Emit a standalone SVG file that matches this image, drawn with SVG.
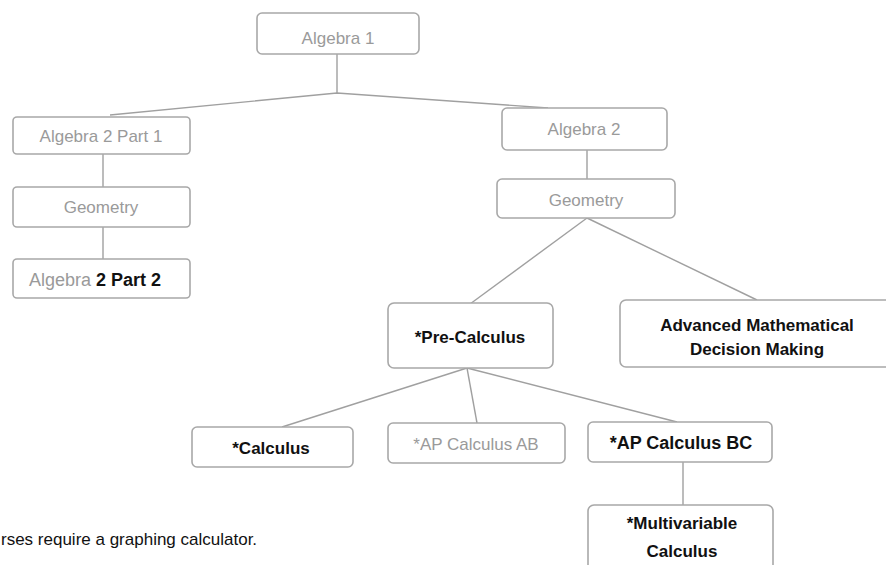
<svg xmlns="http://www.w3.org/2000/svg" width="886" height="565" viewBox="0 0 886 565">
<style>
.box{fill:#fff;stroke:#a8a8a8;stroke-width:1.6}
.t{font-family:"Liberation Sans","Open Sans",Arial,sans-serif;font-size:17px;text-anchor:middle}
.g{fill:#9a9a9a}
.b{fill:#111;font-weight:bold}
.con{fill:none;stroke:#a0a0a0;stroke-width:1.4}
.note{font-family:"Liberation Sans",Arial,sans-serif;font-size:17px;fill:#111}
</style>
<rect width="886" height="565" fill="#fff"/>
<g id="connectors" class="con">
<path d="M337 54 V93"/>
<path d="M110 115 L337 93 L548 108"/>
<path d="M103 154 V187"/>
<path d="M103 227 V259"/>
<path d="M587 150 V179"/>
<path d="M587 218 L470 304"/>
<path d="M587 218 L757 300"/>
<path d="M467 368 L282 427"/>
<path d="M467 368 L477 423"/>
<path d="M467 368 L677 422"/>
<path d="M683 462 V505"/>
</g>
<g id="algebra1"><rect class="box" x="257" y="13" width="162" height="41" rx="5"/><text class="t g" x="338" y="44">Algebra 1</text></g>
<g id="algebra2part1"><rect class="box" x="13" y="117" width="177" height="37" rx="4"/><text class="t g" x="101" y="142">Algebra 2 Part 1</text></g>
<g id="geometry-left"><rect class="box" x="13" y="187" width="177" height="40" rx="4"/><text class="t g" x="101" y="213">Geometry</text></g>
<g id="algebra2part2"><rect class="box" x="13" y="259" width="177" height="39" rx="4"/><text class="t" x="95" y="286" style="font-size:18px"><tspan class="g">Algebra </tspan><tspan class="b">2 Part 2</tspan></text></g>
<g id="algebra2"><rect class="box" x="502" y="108" width="165" height="42" rx="5"/><text class="t g" x="584" y="135">Algebra 2</text></g>
<g id="geometry-right"><rect class="box" x="497" y="179" width="178" height="39" rx="5"/><text class="t g" x="586" y="206">Geometry</text></g>
<g id="precalculus"><rect class="box" x="388" y="303" width="165" height="65" rx="6"/><text class="t b" x="470" y="343">*Pre-Calculus</text></g>
<g id="amdm"><rect class="box" x="620" y="300" width="272" height="67" rx="6"/><text class="t b" x="757" y="331">Advanced Mathematical</text><text class="t b" x="757" y="355">Decision Making</text></g>
<g id="calculus"><rect class="box" x="192" y="427" width="161" height="40" rx="5"/><text class="t b" x="271" y="454">*Calculus</text></g>
<g id="apcalcab"><rect class="box" x="388" y="423" width="177" height="40" rx="5"/><text class="t g" x="476" y="450">*AP Calculus AB</text></g>
<g id="apcalcbc"><rect class="box" x="588" y="422" width="184" height="40" rx="5"/><text class="t b" x="681" y="449" style="font-size:18px">*AP Calculus BC</text></g>
<g id="multivariable"><rect class="box" x="588" y="505" width="185" height="70" rx="6"/><text class="t b" x="682" y="529">*Multivariable</text><text class="t b" x="682" y="557">Calculus</text></g>
<text class="note" x="1" y="545">rses require a graphing calculator.</text>
</svg>
